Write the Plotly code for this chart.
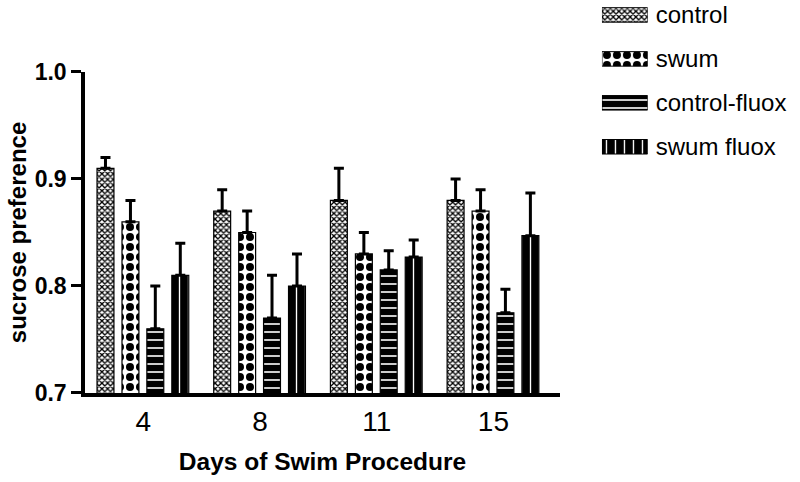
import plotly.graph_objects as go

days = ["4", "8", "11", "15"]
series_names = ["control", "swum", "control-fluox", "swum fluox"]
control = [0.91, 0.87, 0.88, 0.88]
control_err = [0.01, 0.02, 0.03, 0.02]
swum = [0.86, 0.85, 0.83, 0.87]
swum_err = [0.02, 0.02, 0.02, 0.02]
control_fluox = [0.76, 0.77, 0.815, 0.775]
control_fluox_err = [0.04, 0.04, 0.018, 0.022]
swum_fluox = [0.81, 0.80, 0.827, 0.847]
swum_fluox_err = [0.03, 0.03, 0.016, 0.04]
y_ticks = [0.7, 0.8, 0.9, 1.0]

values = [control, swum, control_fluox, swum_fluox]
errors = [control_err, swum_err, control_fluox_err, swum_fluox_err]

patterns = [
    dict(shape="x", fgcolor="black", bgcolor="white", size=4, solidity=0.55, fgopacity=1),
    dict(shape=".", fgcolor="black", bgcolor="white", size=10, solidity=0.5, fgopacity=1),
    dict(shape="-", fgcolor="white", bgcolor="black", size=8, solidity=0.2, fgopacity=1),
    dict(shape="|", fgcolor="white", bgcolor="black", size=9, solidity=0.15, fgopacity=1),
]
offsets = [-0.397, -0.183, 0.030, 0.244]
bar_w = 0.145

fig = go.Figure()
for name, vals, errs, pat, off in zip(series_names, values, errors, patterns, offsets):
    fig.add_trace(go.Bar(
        x=days, y=vals, name=name, offset=off, width=bar_w,
        marker=dict(color="white", pattern=pat, line=dict(color="black", width=1.2)),
        error_y=dict(type="data", array=errs, arrayminus=[0] * len(errs), symmetric=False,
                     color="black", thickness=3, width=5),
        showlegend=False,
        xaxis="x", yaxis="y",
    ))

# legend swatches drawn on an auxiliary axis
for name, pat in zip(series_names, patterns):
    fig.add_trace(go.Bar(
        x=[1], y=[name], orientation="h", width=0.33,
        marker=dict(color="white", pattern=pat, line=dict(color="black", width=1)),
        showlegend=False, hoverinfo="skip",
        xaxis="x2", yaxis="y2",
    ))

fig.update_layout(
    width=800, height=482,
    margin=dict(l=85, r=0, t=0, b=89, autoexpand=False),
    plot_bgcolor="white", paper_bgcolor="white",
    barmode="overlay",
    font=dict(family="Liberation Sans, Arial", color="black"),
    xaxis=dict(
        domain=[0, 0.6643], type="category", range=[-0.5, 3.57], automargin=False,
        showline=True, linecolor="black", linewidth=4,
        ticks="", showgrid=False, zeroline=False,
        tickfont=dict(size=28), ticklabelstandoff=0,
        title=dict(text="<b>Days of Swim Procedure</b>", font=dict(size=24.5), standoff=18),
    ),
    yaxis=dict(
        domain=[0, 0.8168], range=[0.7, 1.0], tickvals=y_ticks, tickformat=".1f",
        automargin=False,
        showline=True, linecolor="black", linewidth=3.5,
        ticks="outside", ticklen=10, tickwidth=3, tickcolor="black",
        showgrid=False, zeroline=False,
        tickfont=dict(size=23, family="Liberation Sans, Arial", weight="bold"),
        title=dict(text="<b>sucrose preference</b>", font=dict(size=24), standoff=2),
    ),
    xaxis2=dict(
        domain=[0.723, 0.787], range=[0, 1], anchor="y2", automargin=False,
        visible=False, showgrid=False, zeroline=False,
    ),
    yaxis2=dict(
        domain=[0.593, 1.0], range=[3.3, -0.34], anchor="x2", side="right",
        automargin=False,
        type="category", categoryorder="array", categoryarray=series_names,
        showline=False, showgrid=False, zeroline=False, ticks="",
        tickfont=dict(size=24), ticklabelstandoff=7,
    ),
)

fig.write_html("out.html", config={"displayModeBar": False},
               post_script="document.body.style.margin='0';")
